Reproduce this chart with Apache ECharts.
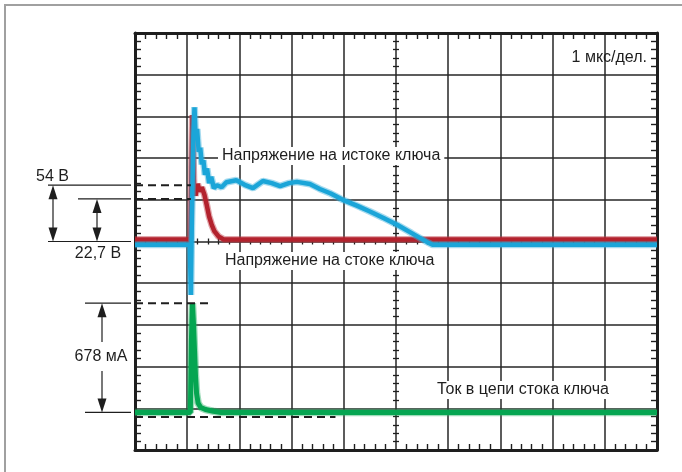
<!DOCTYPE html>
<html>
<head>
<meta charset="utf-8">
<script src="https://cdn.jsdelivr.net/npm/echarts@6/dist/echarts.min.js"></script>
<style>
  html, body { margin: 0; padding: 0; background: #fff; }
  #chart { width: 682px; height: 472px; }
</style>
</head>
<body>
<div id="chart"></div>
<script>
// Oscilloscope capture: time in µs (1 µs per division), amplitude in screen divisions (0..10).

// Source voltage of the switch (blue trace)
const sourceTime  = [0, 1.05, 1.07, 1.09, 1.12, 1.14, 1.16, 1.19, 1.22, 1.25, 1.28, 1.31, 1.34, 1.38, 1.42, 1.46, 1.51, 1.57, 1.66, 1.75, 1.94, 2.1, 2.26, 2.45, 2.62, 2.78, 2.95, 3.1, 3.35, 3.54, 3.75, 3.98, 4.25, 4.5, 4.75, 5.02, 5.3, 5.59, 5.7, 10];
const sourceLevel = [4.92, 4.92, 3.72, 5.6, 7.6, 8.22, 7.55, 7.7, 7.15, 7.25, 6.85, 6.95, 6.6, 6.75, 6.4, 6.55, 6.28, 6.35, 6.3, 6.42, 6.47, 6.36, 6.28, 6.45, 6.4, 6.33, 6.4, 6.43, 6.38, 6.26, 6.15, 6.0, 5.86, 5.72, 5.57, 5.4, 5.2, 4.99, 4.92, 4.92];

// Drain voltage of the switch (red trace)
const drainTime  = [0, 1.06, 1.08, 1.1, 1.115, 1.13, 1.16, 1.2, 1.24, 1.28, 1.33, 1.37, 1.42, 1.47, 1.52, 1.6, 1.7, 10];
const drainLevel = [5.05, 5.05, 6.6, 8.03, 7.1, 6.3, 6.1, 6.38, 6.2, 6.3, 6.12, 5.9, 5.6, 5.4, 5.25, 5.12, 5.05, 5.05];

// Drain current of the switch (green trace)
const currentTime  = [0, 1.06, 1.08, 1.1, 1.12, 1.14, 1.16, 1.18, 1.21, 1.26, 1.35, 1.5, 1.65, 10];
const currentLevel = [0.9, 0.9, 2.6, 3.52, 3.05, 2.4, 1.75, 1.35, 1.12, 1.02, 0.97, 0.93, 0.9, 0.9];

// Dashed reference levels inside the screen and where each one stops
const refLevel = [6.35, 6.02, 3.52, 0.79];
const refEnd   = [1.07, 1.07, 1.49, 3.84];

// Measurement brackets on the left
const voltZero   = 5.0;   // common voltage reference
const voltHigh   = 6.35;  // 54 В
const voltLow    = 6.02;  // 22,7 В
const currBase   = 0.9;   // current baseline
const currPeak   = 3.52;  // 678 мА
const labelVHigh = '54 В';
const labelVLow  = '22,7 В';
const labelCurr  = '678 мА';

const traceNames = ['Напряжение на истоке ключа', 'Напряжение на стоке ключа', 'Ток в цепи стока ключа'];
const timebase = '1 мкс/дел.';

const INK = '#1e1e1e';
const FONT = '16px "Liberation Sans", Arial, sans-serif';

const zip = (a, b) => a.map((v, i) => [v, b[i]]);

function screenAxis(extra) {
  const base = {
    type: 'value', min: 0, max: 10, interval: 1,
    axisLabel: { show: false },
    axisTick: { show: false, inside: true },
    minorTick: { show: true, splitNumber: 5, length: 6, lineStyle: { color: INK, width: 1.4 } },
    axisLine: { show: true, onZero: false, lineStyle: { color: INK, width: 3 } },
    splitLine: { show: false }
  };
  return Object.assign(base, extra);
}
const centreTicks = (inside) => ({
  axisLine: { show: false, onZero: false },
  axisTick: { show: false, inside: inside },
  minorTick: { show: true, splitNumber: 5, length: 3, lineStyle: { color: INK, width: 1.3 } }
});
const gridLines = { show: true, lineStyle: { color: '#262626', width: 1.5 } };

const chart = echarts.init(document.getElementById('chart'), null, { renderer: 'canvas' });

// each trace: a soft noisy halo under a solid core
function trace(name, time, level, core, halo, width, z) {
  const data = zip(time, level);
  return [
    { type: 'line', data, showSymbol: false, silent: true,
      lineStyle: { color: halo, width: width + 2.5, join: 'bevel' }, z: z },
    { name, type: 'line', data, showSymbol: false,
      lineStyle: { color: core, width: width, join: 'bevel' }, z: z + 0.5 }
  ];
}

const series = [].concat(
  trace(traceNames[1], drainTime, drainLevel, '#b3222d', 'rgba(190,60,70,0.45)', 4.5, 3),
  trace(traceNames[0], sourceTime, sourceLevel, '#1ba5d8', 'rgba(60,175,220,0.45)', 4.5, 4),
  trace(traceNames[2], currentTime, currentLevel, '#05a551', 'rgba(40,175,100,0.45)', 5, 4)
);
refLevel.forEach((lv, i) => {
  series.push({
    type: 'line', data: [[0, lv], [refEnd[i], lv]], showSymbol: false, silent: true,
    lineStyle: { color: INK, width: 2, type: [8, 5] }, z: 6
  });
});

chart.setOption({
  animation: false,
  backgroundColor: '#fff',
  grid: { left: 135, top: 33, width: 522, height: 417, containLabel: false, outerBoundsMode: 'none' },
  xAxis: [
    screenAxis({ position: 'bottom', splitLine: gridLines }),
    screenAxis({ position: 'top' }),
    screenAxis(Object.assign({ position: 'bottom', offset: -208.5 }, centreTicks(true))),
    screenAxis(Object.assign({ position: 'bottom', offset: -208.5 }, centreTicks(false)))
  ],
  yAxis: [
    screenAxis({ position: 'left', splitLine: gridLines }),
    screenAxis({ position: 'right' }),
    screenAxis(Object.assign({ position: 'left', offset: -261 }, centreTicks(true))),
    screenAxis(Object.assign({ position: 'left', offset: -261 }, centreTicks(false)))
  ],
  series: series
});

// Annotations placed from the vertical scale
const py = v => chart.convertToPixel({ gridIndex: 0 }, [0, v])[1];

const line = (x1, y1, x2, y2) => ({
  type: 'line', shape: { x1, y1, x2, y2 }, style: { stroke: INK, lineWidth: 1.2 }, z: 20
});
// dir = 1: tip on top; dir = -1: tip at the bottom
const head = (x, tipY, dir) => ({
  type: 'polygon',
  shape: { points: [[x, tipY], [x - 4.5, tipY + dir * 14], [x + 4.5, tipY + dir * 14]] },
  style: { fill: INK }, z: 20
});
const text = (str, x, y, align, bg) => ({
  type: 'text', x, y, z: 30,
  style: {
    text: str, font: FONT, fill: INK, textAlign: align, textVerticalAlign: 'middle',
    backgroundColor: bg ? '#fff' : null, padding: bg ? [1, 4] : 0
  }
});

const yHigh = py(voltHigh), yLow = py(voltLow), yZero = py(voltZero);
const yCurrTop = py(currPeak), yCurrBase = py(currBase);

const elements = [
  // page frame
  { type: 'rect', shape: { x: 5, y: 5, width: 720, height: 520 }, style: { fill: null, stroke: '#a0a0a0', lineWidth: 2 }, z: 1 },

  // voltage bracket
  line(48, yHigh, 131, yHigh),
  line(78, yLow, 131, yLow),
  line(48, yZero, 131, yZero),
  line(53, yHigh + 10, 53, yZero - 10),
  head(53, yHigh, 1), head(53, yZero, -1),
  line(97, yLow + 10, 97, yZero - 10),
  head(97, yLow, 1), head(97, yZero, -1),
  text(labelVHigh, 36, yHigh - 9, 'left', false),
  text(labelVLow, 98, yZero + 12, 'center', false),

  // current bracket
  line(85, yCurrTop, 131, yCurrTop),
  line(85, yCurrBase, 131, yCurrBase),
  line(102, yCurrTop + 10, 102, 342),
  line(102, 371, 102, yCurrBase - 10),
  head(102, yCurrTop, 1), head(102, yCurrBase, -1),
  text(labelCurr, 101, 357, 'center', false),

  // trace captions and time base
  text(traceNames[0], 218, 156, 'left', true),
  text(traceNames[1], 221, 261, 'left', true),
  text(traceNames[2], 433, 390, 'left', true),
  text(timebase, 647, 58, 'right', false)
];

chart.setOption({ graphic: { elements: elements } });
</script>
</body>
</html>
